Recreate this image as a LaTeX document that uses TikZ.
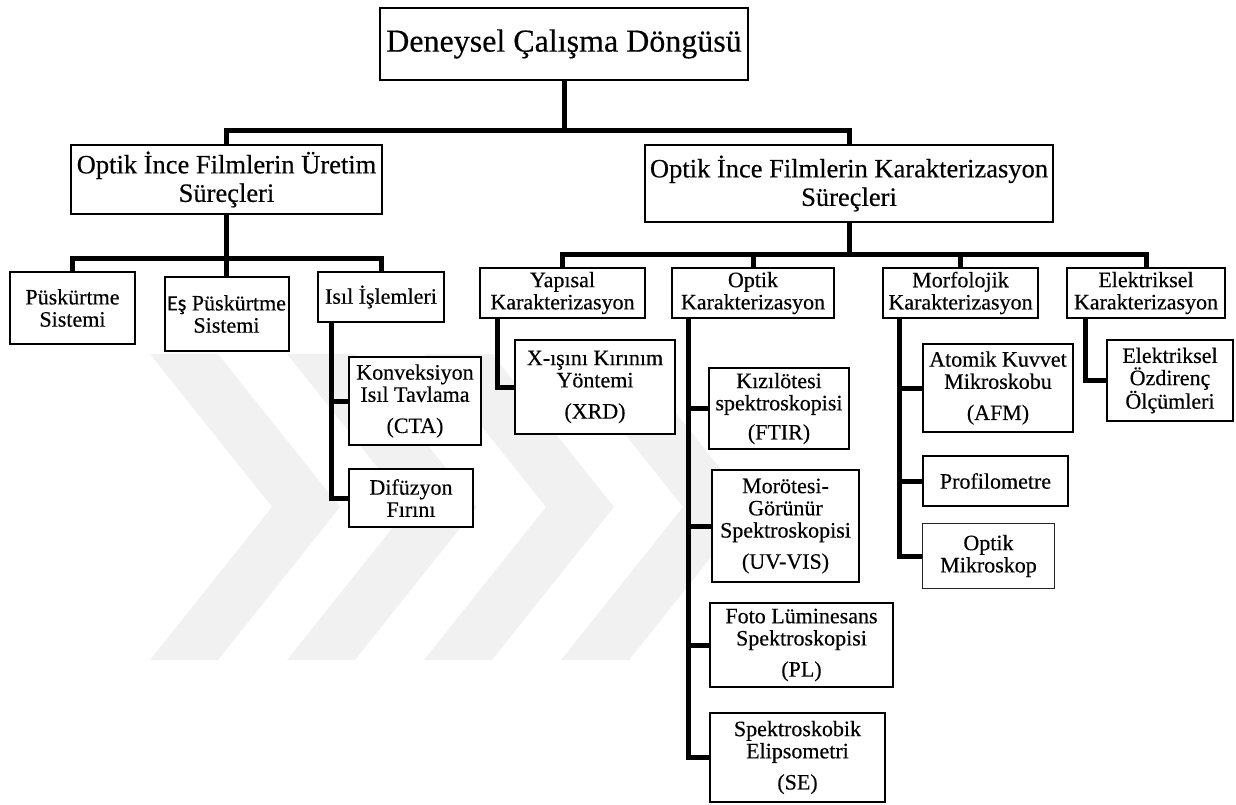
\documentclass[tikz,border=0pt]{standalone}
\usepackage{fontspec}
\setmainfont{Liberation Serif}[FakeBold=0.35]
\newfontfamily\calibrifont{Carlito}[FakeBold=0.35]
\definecolor{wm}{RGB}{241,241,241}
\begin{document}
\begin{tikzpicture}[x=1pt,y=-1pt,
  box/.style={draw, line width=2pt, fill=white, align=center, inner sep=1pt,
              font=\fontsize{22}{22.2}\selectfont},
  thinbox/.style={box, line width=1pt, draw=black!85},
  midbox/.style={box, font=\fontsize{26.5}{28.5}\selectfont},
  topbox/.style={box, font=\fontsize{32}{34}\selectfont},
  conn/.style={line width=5pt, line join=miter},
  chev/.style={fill=wm, draw=none}]
\useasboundingbox (0,0) rectangle (1236,805);

% faint chevron background marks
\foreach \o in {0,137,274,411}{
  \path[chev] (150+\o,354) -- (218+\o,354) -- (340+\o,507) -- (218+\o,660)
              -- (150+\o,660) -- (272+\o,507) -- cycle;
}

% root
\node[topbox, minimum width=368pt, minimum height=72pt] (root) at (564,44) {Deneysel Çalışma Döngüsü};

% second level
\node[midbox, minimum width=311pt, minimum height=69pt] (lmid) at (226.5,179.5)
  {Optik İnce Filmlerin Üretim\\Süreçleri};
\node[midbox, minimum width=408pt, minimum height=77pt] (rmid) at (849,183.5)
  {Optik İnce Filmlerin Karakterizasyon\\Süreçleri};

% production branch
\node[box, minimum width=125pt, minimum height=72pt] (pusk) at (72.5,308) {Püskürtme\\Sistemi};
\node[box, minimum width=124pt, minimum height=74pt] (es) at (226.5,314) {{\calibrifont Eş} Püskürtme\\Sistemi};
\node[box, minimum width=126pt, minimum height=50pt] (isil) at (381,297) {Isıl İşlemleri};
\node[box, minimum width=132pt, minimum height=88pt] (cta) at (415,401) {Konveksiyon\\Isıl Tavlama\\[9pt](CTA)};
\node[box, minimum width=124pt, minimum height=58pt] (dif) at (411,498) {Difüzyon\\Fırını};

% characterization branch
\node[box, minimum width=165pt, minimum height=50pt] (yap) at (562.5,293) {Yapısal\\Karakterizasyon};
\node[box, minimum width=162pt, minimum height=50pt] (opt) at (753,293) {Optik\\Karakterizasyon};
\node[box, minimum width=155pt, minimum height=50pt] (mor) at (960.5,293) {Morfolojik\\Karakterizasyon};
\node[box, minimum width=158pt, minimum height=50pt] (ele) at (1146,293) {Elektriksel\\Karakterizasyon};

\node[box, minimum width=160pt, minimum height=94pt] (xrd) at (595,387) {X-ışını Kırınım\\Yöntemi\\[9pt](XRD)};

\node[box, minimum width=140pt, minimum height=81pt] (ftir) at (779,408.5) {Kızılötesi\\spektroskopisi\\[7pt](FTIR)};
\node[box, minimum width=147pt, minimum height=112pt] (uv) at (785.5,526) {Morötesi-\\Görünür\\Spektroskopisi\\[9pt](UV-VIS)};
\node[box, minimum width=183pt, minimum height=84pt] (pl) at (801.5,645) {Foto Lüminesans\\Spektroskopisi\\[9pt](PL)};
\node[box, minimum width=175pt, minimum height=89pt] (se) at (797.5,757.5) {Spektroskobik\\Elipsometri\\[9pt](SE)};

\node[box, minimum width=150pt, minimum height=88pt] (afm) at (998,388) {Atomik Kuvvet\\Mikroskobu\\[9pt](AFM)};
\node[box, minimum width=145pt, minimum height=50pt] (prof) at (995.5,481) {Profilometre};
\node[thinbox, minimum width=132pt, minimum height=65pt] (omik) at (988.5,556) {Optik\\Mikroskop};

\node[box, minimum width=126pt, minimum height=81pt] (ozd) at (1170,380.5) {Elektriksel\\Özdirenç\\Ölçümleri};

% connectors: root to second level
\coordinate (j0) at (564,131);
\draw[conn] (root.south) -- (j0) -| (lmid.north);
\draw[conn] (j0) -| (rmid.north);

% production branch
\coordinate (j1) at (226.5,258);
\draw[conn] (lmid.south) -- (j1) -| (pusk.north);
\draw[conn] (j1) -| (isil.north);
\draw[conn] (j1) -- (es.north);
\coordinate (ix) at (331,0);
\draw[conn] (isil.south -| ix) |- (dif.west);
\draw[conn] (ix |- cta.west) -- (cta.west);

% characterization branch
\coordinate (j2) at (849,254);
\draw[conn] (rmid.south) -- (j2) -| (yap.north);
\draw[conn] (j2) -| (ele.north);
\draw[conn] (j2 -| opt.north) -- (opt.north);
\draw[conn] (j2 -| mor.north) -- (mor.north);

\coordinate (yx) at (497,0);
\draw[conn] (yap.south -| yx) |- (xrd.west);

\coordinate (ox) at (688,0);
\draw[conn] (opt.south -| ox) |- (se.west);
\draw[conn] (ox |- ftir.west) -- (ftir.west);
\draw[conn] (ox |- uv.west) -- (uv.west);
\draw[conn] (ox |- pl.west) -- (pl.west);

\coordinate (mx) at (899,0);
\draw[conn] (mor.south -| mx) |- (omik.west);
\draw[conn] (mx |- afm.west) -- (afm.west);
\draw[conn] (mx |- prof.west) -- (prof.west);

\coordinate (ex) at (1085,0);
\draw[conn] (ele.south -| ex) |- (ozd.west);
\end{tikzpicture}
\end{document}
